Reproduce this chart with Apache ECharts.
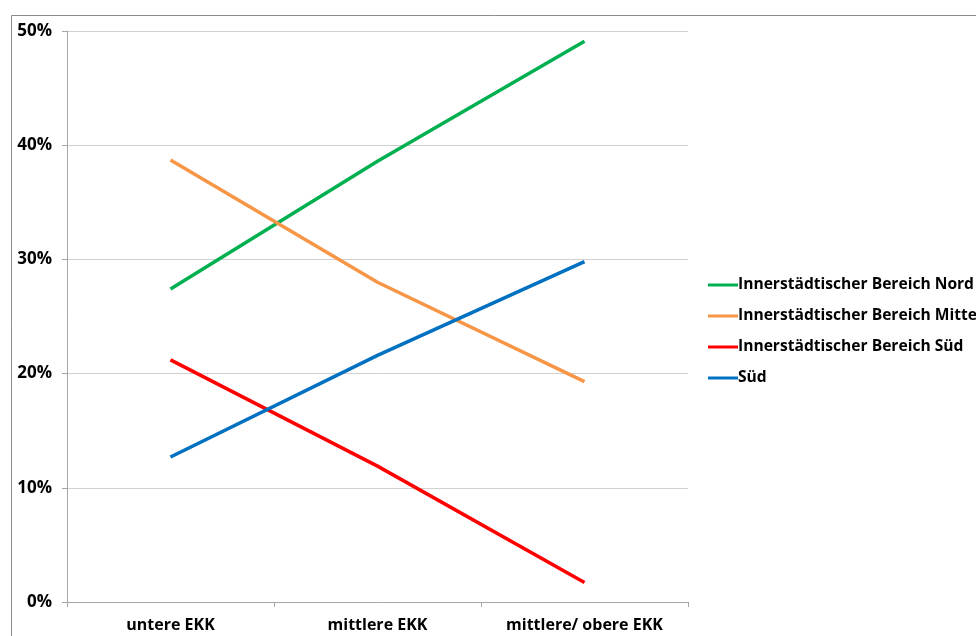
<!DOCTYPE html>
<html>
<head>
<meta charset="utf-8">
<script src="https://cdn.jsdelivr.net/npm/echarts@6/dist/echarts.min.js"></script>
<style>html,body{margin:0;padding:0;background:#fff;}#c{width:976px;height:636px;}</style>
</head>
<body>
<div id="c"></div>
<script>
const categories = ['untere EKK', 'mittlere EKK', 'mittlere/ obere EKK'];
const seriesNames = ['Innerstädtischer Bereich Nord', 'Innerstädtischer Bereich Mitte', 'Innerstädtischer Bereich Süd', 'Süd'];
const nord = [27.4, 38.6, 49.1];
const mitte = [38.7, 28.0, 19.3];
const suedIB = [21.2, 11.9, 1.7];
const sued = [12.7, 21.6, 29.8];
const colors = ['#00B050', '#F79646', '#FF0000', '#0070C0'];
const yTicks = [0, 10, 20, 30, 40, 50];

const font = '"Open Sans", Lato, sans-serif';
const chart = echarts.init(document.getElementById('c'));
const dataSets = [nord, mitte, suedIB, sued];
chart.setOption({
  animation: false,
  backgroundColor: '#fff',
  graphic: [{
    type: 'rect', left: 9, top: 13, shape: { width: 1000, height: 700 },
    style: { fill: 'none', stroke: '#8c8c8c', lineWidth: 1 }, silent: true
  }],
  grid: { left: 67, right: 288, top: 31, bottom: 34 },
  legend: {
    orient: 'vertical', left: 703, top: 272,
    itemWidth: 30, itemHeight: 14, itemGap: 15,
    icon: 'path://M0,6 L30,6 L30,9 L0,9 Z',
    textStyle: { fontFamily: font, fontWeight: 'bold', fontSize: 15.6, color: '#000', padding: [0, 0, 0, -5] },
    data: seriesNames
  },
  xAxis: {
    type: 'category', data: categories, boundaryGap: true,
    axisLine: { lineStyle: { color: '#a6a6a6', width: 1 } },
    axisTick: { show: true, length: 5, lineStyle: { color: '#a6a6a6' } },
    axisLabel: { margin: 15, fontFamily: font, fontWeight: 'bold', fontSize: 16, color: '#000' }
  },
  yAxis: {
    type: 'value', min: yTicks[0], max: yTicks[yTicks.length - 1], interval: 10,
    axisLine: { show: true, lineStyle: { color: '#a6a6a6', width: 1 } },
    axisTick: { show: true, length: 5, lineStyle: { color: '#a6a6a6' } },
    splitLine: { lineStyle: { color: '#d0d0d0', width: 1 } },
    axisLabel: { margin: 15, formatter: '{value}%', fontFamily: font, fontWeight: 'bold', fontSize: 17, color: '#000' }
  },
  series: seriesNames.map((n, i) => ({
    name: n, type: 'line', data: dataSets[i], symbol: 'none',
    lineStyle: { color: colors[i], width: 3.5 }, itemStyle: { color: colors[i] }
  }))
});
</script>
</body>
</html>
